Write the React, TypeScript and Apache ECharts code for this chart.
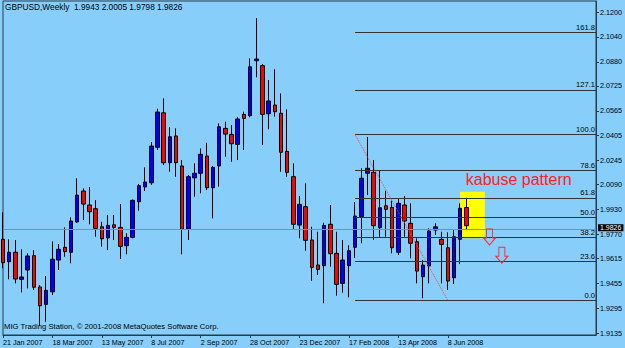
import React, { useEffect, useRef } from 'react';
import * as echarts from 'echarts';

// ---- data ----
const symbol = 'GBPUSD';
const timeframe = 'Weekly';
const copyright = 'MIG Trading Station, © 2001-2008 MetaQuotes Software Corp.';
const firstWeek = [2007, 0, 21];
const futureBars = 21;

const opens = [
  1.9738, 1.9594, 1.9655, 1.9481, 1.9541, 1.9633, 1.9432, 1.9320, 1.9401, 1.9605,
  1.9687, 1.9655, 1.9850, 2.0049, 1.9959, 1.9935, 1.9819, 1.9747, 1.9832, 1.9815,
  1.9697, 1.9751, 1.9980, 2.0075, 2.0102, 2.0330, 2.0552, 2.0231, 2.0403, 2.0210,
  1.9803, 2.0134, 2.0163, 2.0274, 2.0070, 2.0210, 2.0452, 2.0413, 2.0349, 2.0542,
  2.0533, 2.0887, 2.0855, 2.0546, 2.0602, 2.0549, 2.0304, 2.0141, 1.9830, 1.9948,
  1.9734, 1.9573, 1.9569, 1.9835, 1.9648, 1.9455, 1.9569, 1.9687, 1.9884, 2.0163,
  2.0169, 1.9813, 1.9954, 1.9944, 1.9655, 1.9959, 1.9841, 1.9723, 1.9498, 1.9567,
  1.9798, 1.9738, 1.9684, 1.9491, 1.9738, 1.9943,
];
const closes = [
  1.9588, 1.9655, 1.9483, 1.9496, 1.9631, 1.9430, 1.9311, 1.9410, 1.9610, 1.9674,
  1.9659, 1.9856, 2.0023, 1.9965, 1.9916, 1.9809, 1.9742, 1.9828, 1.9815, 1.9693,
  1.9751, 1.9989, 2.0083, 2.0107, 2.0338, 2.0557, 2.0231, 2.0398, 2.0231, 1.9803,
  2.0141, 2.0163, 2.0285, 2.0070, 2.0201, 2.0462, 2.0415, 2.0353, 2.0512, 2.0516,
  2.0848, 2.0898, 2.0542, 2.0628, 2.0559, 2.0298, 2.0169, 1.9835, 1.9963, 1.9732,
  1.9558, 1.9545, 1.9828, 1.9646, 1.9449, 1.9605, 1.9665, 1.9888, 2.0131, 2.0195,
  1.9826, 1.9941, 1.9931, 1.9684, 1.9970, 1.9856, 1.9713, 1.9534, 1.9573, 1.9792,
  1.9819, 1.9706, 1.9470, 1.9755, 1.9938, 1.9826,
];
const lows = [
  1.9552, 1.9481, 1.9455, 1.9397, 1.9423, 1.9412, 1.9181, 1.9208, 1.9380, 1.9541,
  1.9626, 1.9584, 1.9845, 1.9862, 1.9835, 1.9755, 1.9691, 1.9669, 1.9734, 1.9612,
  1.9642, 1.9745, 1.9922, 2.0049, 2.0089, 2.0313, 2.0216, 2.0173, 2.0141, 1.9642,
  1.9734, 2.0012, 2.0034, 2.0055, 1.9873, 2.0077, 2.0269, 2.0237, 2.0248, 2.0313,
  2.0523, 2.0780, 2.0345, 2.0446, 2.0527, 2.0173, 2.0141, 1.9803, 1.9745, 1.9665,
  1.9472, 1.9509, 1.9327, 1.9562, 1.9376, 1.9395, 1.9365, 1.9618, 1.9713, 2.0023,
  1.9734, 1.9755, 1.9755, 1.9648, 1.9637, 1.9755, 1.9616, 1.9455, 1.9359, 1.9455,
  1.9766, 1.9455, 1.9412, 1.9451, 1.9579, 1.9798,
];
const highs = [
  1.9912, 1.9738, 1.9734, 1.9674, 1.9648, 1.9669, 1.9444, 1.9502, 1.9725, 1.9708,
  1.9815, 1.9880, 2.0131, 2.0066, 2.0075, 1.9991, 1.9851, 1.9895, 1.9895, 1.9965,
  1.9777, 1.9994, 2.0094, 2.0201, 2.0364, 2.0578, 2.0645, 2.0459, 2.0452, 2.0248,
  2.0152, 2.0227, 2.0323, 2.0359, 2.0210, 2.0484, 2.0495, 2.0473, 2.0523, 2.0559,
  2.0902, 2.1161, 2.0866, 2.0763, 2.0832, 2.0677, 2.0574, 2.0227, 2.0017, 2.0098,
  1.9819, 1.9787, 1.9845, 1.9959, 1.9787, 1.9734, 1.9700, 1.9978, 2.0195, 2.0397,
  2.0248, 2.0184, 2.0051, 1.9987, 1.9997, 2.0017, 1.9970, 1.9745, 1.9605, 1.9809,
  1.9841, 1.9787, 1.9783, 1.9798, 1.9970, 2.0005,
];

const yTicks = [2.1200, 2.1040, 2.0880, 2.0725, 2.0565, 2.0405, 2.0245, 2.0090, 1.9930, 1.9770, 1.9615, 1.9455, 1.9295, 1.9135];
const yMin = 1.9123;
const yMax = 2.1271;

const fibLevels = [0, 23.6, 38.2, 50.0, 61.8, 78.6, 100.0, 127.1, 161.8];
const fibHigh = 2.0411;
const fibLow = 1.9346;
const fibStartBar = 57;
const trendEndBar = 72;

const boxFromBar = 74;
const boxToBar = 78;
const boxTop = 2.0044;
const boxBottom = 1.9745;

const noteText = 'kabuse pattern';
const noteBar = 75;
const notePrice = 2.0120;

const arrowBars = [79, 81];
const arrowPrices = [1.9753, 1.9636];

const labelEvery = 8;

// ---- helpers ----
const MONTHS = ['Jan', 'Feb', 'Mar', 'Apr', 'May', 'Jun', 'Jul', 'Aug', 'Sep', 'Oct', 'Nov', 'Dec'];
function buildWeeks(count: number): string[] {
  const out: string[] = [];
  for (let i = 0; i < count; i++) {
    const d = new Date(Date.UTC(firstWeek[0], firstWeek[1], firstWeek[2] + 7 * i));
    out.push(`${d.getUTCDate()} ${MONTHS[d.getUTCMonth()]} ${d.getUTCFullYear()}`);
  }
  return out;
}

const FONT = '"Liberation Sans", Arial, sans-serif';
const FRAME = '#2b3a48';
const ARROW_PATH = 'path://M3,0 L9,0 L9,9 L12,9 L6,16 L0,9 L3,9 Z';

export default function App() {
  const ref = useRef<HTMLDivElement>(null);

  useEffect(() => {
    if (!ref.current) return;
    const chart = echarts.init(ref.current, undefined, { renderer: 'svg' });

    const n = opens.length;
    const weeks = buildWeeks(n + futureBars);
    const candles = opens.map((o, i) => [o, closes[i], lows[i], highs[i]]);
    const last = n - 1;
    const header = `${symbol},${timeframe}  ${opens[last].toFixed(4)} ${highs[last].toFixed(4)} ${lows[last].toFixed(4)} ${closes[last].toFixed(4)}`;
    const lastSlot = weeks.length - 1;

    const fibLines = fibLevels.map((lvl) => {
      const price = fibLow + (fibHigh - fibLow) * lvl / 100;
      return [
        {
          coord: [weeks[fibStartBar], price],
          lineStyle: { color: '#333333', width: 1, type: 'solid' },
          label: {
            show: true,
            position: 'insideEndTop',
            formatter: lvl.toFixed(1),
            color: '#000',
            fontSize: 7.6,
            fontFamily: FONT,
            distance: 1,
          },
        },
        { coord: [weeks[lastSlot], price] },
      ];
    });

    const trendLine = [
      {
        coord: [weeks[fibStartBar], fibHigh],
        lineStyle: { color: '#ff3b3b', width: 1, type: 'dotted' },
        label: { show: false },
      },
      { coord: [weeks[trendEndBar], fibLow] },
    ];

    const priceLine = {
      yAxis: closes[last],
      lineStyle: { color: '#8c8c8c', width: 1, type: 'solid' },
      label: {
        show: true,
        position: 'end',
        formatter: closes[last].toFixed(4),
        backgroundColor: '#000',
        color: '#fff',
        padding: [0, 2, 0, 2],
        lineHeight: 7,
        fontSize: 7,
        fontFamily: FONT,
        distance: 2,
        offset: [0, -2],
      },
    };

    const arrows = arrowBars.map((b, i) => ({
      coord: [weeks[b], arrowPrices[i]],
      symbol: ARROW_PATH,
      symbolSize: [12, 16],
      symbolOffset: [-1.5, 0],
      itemStyle: { color: 'rgba(0,0,0,0)', borderColor: '#ff2a2a', borderWidth: 1 },
      label: { show: false },
    }));

    const note = {
      coord: [weeks[noteBar], notePrice],
      symbol: 'circle',
      symbolSize: 1,
      itemStyle: { color: 'rgba(0,0,0,0)' },
      label: {
        show: true,
        position: 'right',
        distance: 0,
        offset: [-1, 0],
        formatter: noteText,
        color: '#ff2020',
        fontSize: 16,
        fontFamily: FONT,
      },
    };

    chart.setOption({
      animation: false,
      backgroundColor: '#87CEFA',
      title: [
        {
          text: header,
          left: 5,
          top: 3,
          padding: 0,
          textStyle: { fontFamily: FONT, fontSize: 8.3, fontWeight: 'normal', color: '#000' },
        },
        {
          text: copyright,
          left: 4,
          top: 322,
          padding: 0,
          textStyle: { fontFamily: FONT, fontSize: 7.7, fontWeight: 'normal', color: '#000' },
        },
      ],
      grid: {
        left: 2,
        top: 1,
        right: 29,
        bottom: 13,
        show: true,
        borderColor: FRAME,
        borderWidth: 1,
        backgroundColor: 'transparent',
      },
      xAxis: {
        type: 'category',
        data: weeks,
        boundaryGap: false,
        axisLine: { show: true, lineStyle: { color: FRAME } },
        axisTick: {
          show: true,
          length: 3,
          interval: (i: number) => i % labelEvery === 0 && i < n,
          lineStyle: { color: FRAME },
        },
        axisLabel: {
          interval: (i: number) => i % labelEvery === 0 && i < n,
          align: 'left',
          margin: 4,
          fontSize: 7.2,
          color: '#000',
          fontFamily: FONT,
        },
        splitLine: { show: false },
      },
      yAxis: {
        type: 'value',
        position: 'right',
        min: yMin,
        max: yMax,
        axisLine: { show: true, lineStyle: { color: FRAME } },
        axisTick: { show: true, length: 3, customValues: yTicks, lineStyle: { color: FRAME } },
        axisLabel: {
          customValues: yTicks,
          formatter: (v: number) => v.toFixed(4),
          margin: 4,
          fontSize: 7.2,
          lineHeight: 7,
          color: '#000',
          fontFamily: FONT,
        },
        splitLine: { show: false },
      },
      series: [
        {
          type: 'candlestick',
          data: candles,
          barWidth: 4,
          clip: false,
          itemStyle: {
            color: '#0000ff',
            color0: '#ff0000',
            borderColor: '#000000',
            borderColor0: '#000000',
            borderWidth: 1,
          },
          markArea: {
            silent: true,
            itemStyle: { color: '#ffff00' },
            data: [[
              { coord: [weeks[boxFromBar], boxTop] },
              { coord: [weeks[boxToBar], boxBottom] },
            ]],
          },
          markLine: {
            silent: true,
            symbol: ['none', 'none'],
            data: [priceLine, ...fibLines, trendLine],
          },
          markPoint: {
            silent: true,
            data: [...arrows, note],
          },
        },
      ],
    });

    return () => chart.dispose();
  }, []);

  return (
    <div
      ref={ref}
      style={{ position: 'fixed', left: 0, top: 0, width: 625, height: 348 }}
    />
  );
}
